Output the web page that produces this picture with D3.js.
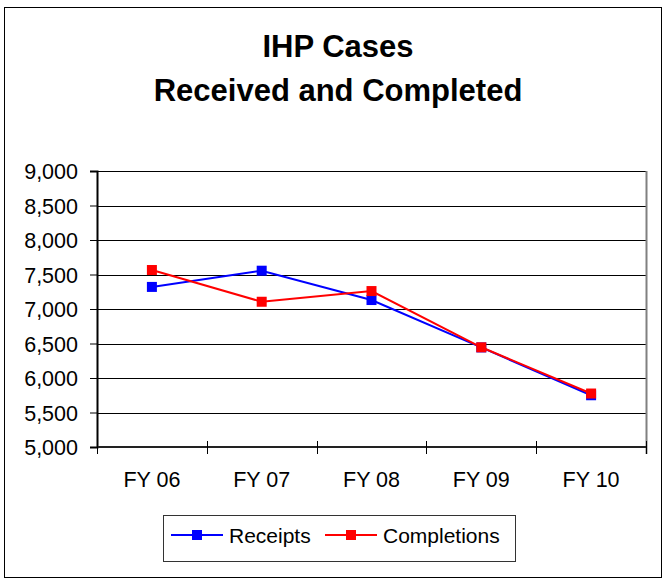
<!DOCTYPE html>
<html>
<head>
<meta charset="utf-8">
<script src="https://cdn.jsdelivr.net/npm/d3@7"></script>
<style>
  body { margin: 0; background: #fff; }
  svg text { font-family: "Liberation Sans", Arial, sans-serif; fill: #000; }
</style>
</head>
<body>
<div id="chart"></div>
<script>
var years = ["FY 06", "FY 07", "FY 08", "FY 09", "FY 10"];
var receipts = [7320, 7555, 7130, 6443, 5750];
var completions = [7565, 7105, 7260, 6445, 5775];
var yTicks = [5000, 5500, 6000, 6500, 7000, 7500, 8000, 8500, 9000];
var seriesNames = ["Receipts", "Completions"];
var seriesColors = ["#0000ff", "#ff0000"];

var width = 665, height = 578;
var margin = {left: 97, right: 19, top: 171, bottom: 131};

var svg = d3.select("#chart").append("svg")
    .attr("width", width)
    .attr("height", height);

// outer frame
svg.append("rect")
    .attr("x", 4.5).attr("y", 7.5)
    .attr("width", 657).attr("height", 570)
    .attr("fill", "#fff")
    .attr("stroke", "#000")
    .attr("stroke-width", 1);

// title
svg.append("text")
    .attr("x", 338).attr("y", 57)
    .attr("text-anchor", "middle")
    .style("font-size", "31px")
    .style("font-weight", "bold")
    .text("IHP Cases");
svg.append("text")
    .attr("x", 338).attr("y", 101)
    .attr("text-anchor", "middle")
    .style("font-size", "31px")
    .style("font-weight", "bold")
    .text("Received and Completed");

var x = d3.scaleBand()
    .domain(years)
    .range([margin.left, width - margin.right])
    .padding(0);

var y = d3.scaleLinear()
    .domain([5000, 9000])
    .range([height - margin.bottom, margin.top]);

// gridlines
svg.append("g")
  .selectAll("line")
  .data(yTicks)
  .enter()
  .append("line")
    .attr("x1", margin.left)
    .attr("x2", width - margin.right)
    .attr("y1", function(d) { return Math.round(y(d)) + 0.5; })
    .attr("y2", function(d) { return Math.round(y(d)) + 0.5; })
    .attr("stroke", "#000")
    .attr("stroke-width", 1);

// right edge of plot area
svg.append("line")
    .attr("x1", width - margin.right + 0.5).attr("x2", width - margin.right + 0.5)
    .attr("y1", y(9000)).attr("y2", y(5000) + 7)
    .attr("stroke", "#808080")
    .attr("stroke-width", 2);

// y axis
var yAxis = svg.append("g")
    .attr("transform", "translate(" + margin.left + ",0)")
    .call(d3.axisLeft(y)
        .tickValues(yTicks)
        .tickFormat(d3.format(","))
        .tickSize(7)
        .tickPadding(12));
yAxis.select(".domain").attr("stroke", "#000").attr("stroke-width", 2);
yAxis.selectAll(".tick line").attr("stroke", "#000");
yAxis.selectAll("text")
    .style("font-size", "21.5px")
    .attr("dy", "0.36em");

// x axis: line and ticks between categories
var bottom = y(5000);
svg.append("line")
    .attr("x1", margin.left).attr("x2", width - margin.right)
    .attr("y1", bottom).attr("y2", bottom)
    .attr("stroke", "#222")
    .attr("stroke-width", 2);

var edges = years.map(function(d) { return x(d); }).concat([x.range()[1]]);
svg.append("g")
  .selectAll("line")
  .data(edges)
  .enter()
  .append("line")
    .attr("x1", function(d) { return Math.round(d) + 0.5; })
    .attr("x2", function(d) { return Math.round(d) + 0.5; })
    .attr("y1", bottom - 6)
    .attr("y2", bottom + 7)
    .attr("stroke", "#000");

svg.append("g")
  .selectAll("text")
  .data(years)
  .enter()
  .append("text")
    .attr("x", function(d) { return x(d) + x.bandwidth() / 2; })
    .attr("y", bottom + 39.5)
    .attr("text-anchor", "middle")
    .style("font-size", "21.5px")
    .text(function(d) { return d; });

// series
var line = d3.line()
    .x(function(d, i) { return x(years[i]) + x.bandwidth() / 2; })
    .y(function(d) { return y(d); });

[receipts, completions].forEach(function(vals, k) {
  svg.append("path")
      .datum(vals)
      .attr("fill", "none")
      .attr("stroke", seriesColors[k])
      .attr("stroke-width", 2)
      .attr("d", line);
  svg.append("g")
    .selectAll("rect")
    .data(vals)
    .enter()
    .append("rect")
      .attr("x", function(d, i) { return x(years[i]) + x.bandwidth() / 2 - 5; })
      .attr("y", function(d) { return y(d) - 5; })
      .attr("width", 10)
      .attr("height", 10)
      .attr("fill", seriesColors[k]);
});

// legend
var legend = svg.append("g");
legend.append("rect")
    .attr("x", 163.5).attr("y", 515.5)
    .attr("width", 352).attr("height", 46)
    .attr("fill", "#fff")
    .attr("stroke", "#333")
    .attr("stroke-width", 1);

var legendX = [171, 325];
seriesNames.forEach(function(name, k) {
  var lx = legendX[k];
  legend.append("line")
      .attr("x1", lx).attr("x2", lx + 52)
      .attr("y1", 535).attr("y2", 535)
      .attr("stroke", seriesColors[k])
      .attr("stroke-width", 2);
  legend.append("rect")
      .attr("x", lx + 21).attr("y", 530)
      .attr("width", 10).attr("height", 10)
      .attr("fill", seriesColors[k]);
  legend.append("text")
      .attr("x", lx + 58).attr("y", 542.5)
      .style("font-size", "21px")
      .text(name);
});
</script>
</body>
</html>
